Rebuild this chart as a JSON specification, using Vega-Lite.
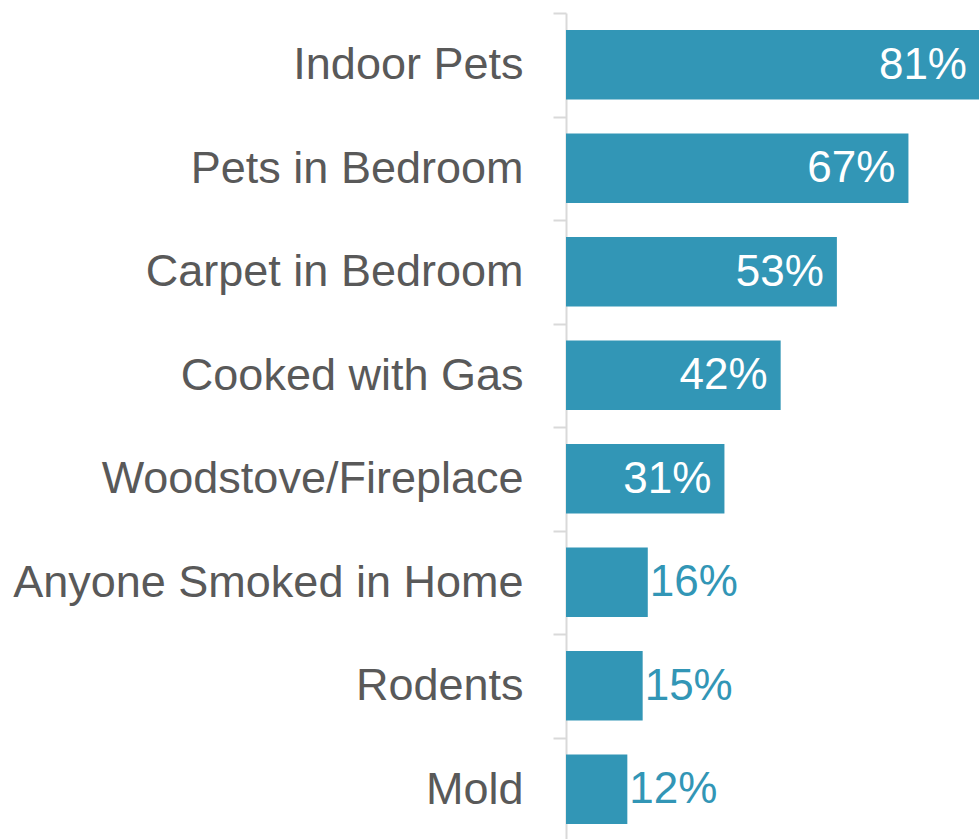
{
  "$schema": "https://vega.github.io/schema/vega-lite/v6.json",
  "autosize": "none",
  "width": 414,
  "height": 828,
  "padding": {"left": 566, "top": 13, "right": 0, "bottom": 0},
  "background": "white",
  "config": {"view": {"stroke": null}},
  "data": {"values": [
    {"exposure": "Indoor Pets", "pct": 0.81},
    {"exposure": "Pets in Bedroom", "pct": 0.67},
    {"exposure": "Carpet in Bedroom", "pct": 0.53},
    {"exposure": "Cooked with Gas", "pct": 0.42},
    {"exposure": "Woodstove/Fireplace", "pct": 0.31},
    {"exposure": "Anyone Smoked in Home", "pct": 0.16},
    {"exposure": "Rodents", "pct": 0.15},
    {"exposure": "Mold", "pct": 0.12}
  ]},
  "encoding": {
    "y": {"field": "exposure", "type": "nominal", "sort": null,
      "scale": {"paddingInner": 0.33, "paddingOuter": 0.165},
      "axis": {"title": null, "domainColor": "#d9d9d9", "domainWidth": 2, "tickColor": "#d9d9d9", "tickWidth": 2, "tickSize": 13, "tickOffset": -51.75, "labelOffset": 51.75, "labelFontSize": 45, "labelFont": "Liberation Sans", "labelColor": "#595959", "labelPadding": 30, "labelLimit": 600}},
    "x": {"field": "pct", "type": "quantitative", "scale": {"domain": [0, 0.81], "nice": false}, "axis": null}
  },
  "layer": [
    {"mark": {"type": "bar", "color": "#3296b6"}},
    {"transform": [{"filter": "datum.pct >= 0.3"}],
     "mark": {"type": "text", "align": "right", "baseline": "middle", "dx": -13, "dy": 1, "color": "white", "fontSize": 44, "font": "Liberation Sans"},
     "encoding": {"text": {"field": "pct", "type": "quantitative", "format": ".0%"}}},
    {"transform": [{"filter": "datum.pct < 0.3"}],
     "mark": {"type": "text", "align": "left", "baseline": "middle", "dx": 2, "dy": 1, "color": "#3296b6", "fontSize": 44, "font": "Liberation Sans"},
     "encoding": {"text": {"field": "pct", "type": "quantitative", "format": ".0%"}}}
  ]
}
